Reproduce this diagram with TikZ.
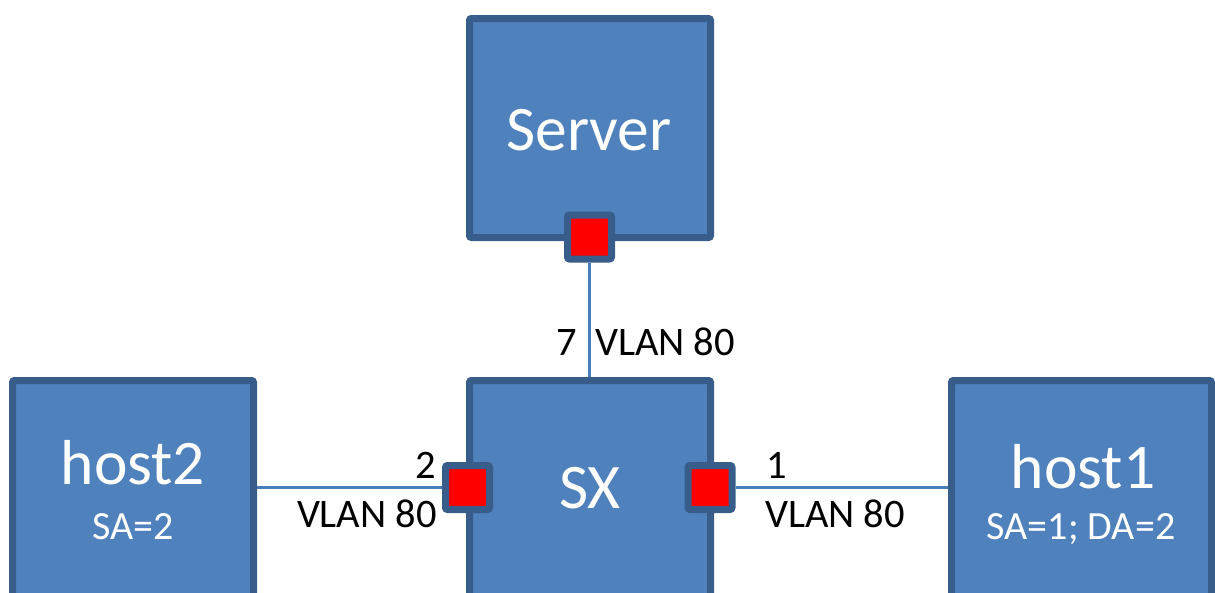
\documentclass[tikz,border=0pt]{standalone}
\usepackage{fontspec}
\setmainfont{Carlito}
\usetikzlibrary{backgrounds}
\definecolor{boxfill}{HTML}{4F81BD}
\definecolor{boxline}{HTML}{385D8A}
\definecolor{wire}{HTML}{4A7EBB}
\tikzset{
  devbox/.style={rectangle,draw=boxline,fill=boxfill,line width=7pt,rounded corners=2pt,
    minimum width=241pt,minimum height=219pt,inner sep=0pt},
  portbox/.style={rectangle,draw=boxline,fill=red,line width=7pt,rounded corners=2pt,
    minimum size=44pt,inner sep=0pt},
  bigtxt/.style={text=white,font=\fontsize{63.5}{63.5}\selectfont,inner sep=0pt},
  smalltxt/.style={text=white,font=\fontsize{40}{40}\selectfont,inner sep=0pt},
  lbl/.style={text=black,font=\fontsize{40.5}{40.5}\selectfont,inner sep=0pt},
  wireline/.style={draw=wire,line width=2.2pt}
}
\begin{document}
\begin{tikzpicture}[x=1pt,y=-1pt]
  \useasboundingbox (0,0) rectangle (1215,592);
  % Devices
  \node[devbox] (server) at (590,128) {};
  \node[devbox] (sx) at (590,490) {};
  \node[devbox] (host2) at (133,490) {};
  \node[devbox,minimum width=260pt] (host1) at (1081.5,490) {};
  % Names
  \node[bigtxt,anchor=base] (servername) at (589,150) {Server};
  \node[bigtxt,anchor=base] (sxname) at (590,508) {SX};
  \node[bigtxt,anchor=base] (host2name) at (133,484) {host2};
  \node[smalltxt,anchor=base] (host2addr) at (133,539) {SA=2};
  \node[bigtxt,anchor=base] (host1name) at (1083,488) {host1};
  \node[smalltxt,anchor=base] (host1addr) at (1081,539) {SA=1; DA=2};
  % Ports
  \node[portbox] (pserver) at (589.5,237) {};
  \node[portbox] (p2) at (467.5,487.5) {};
  \node[portbox] (p1) at (710,487.5) {};
  % Links (behind the boxes)
  \begin{scope}[on background layer]
    \draw[wireline] (pserver.south) -- (pserver.south |- sx.north);
    \draw[wireline] (host2.east |- p2.west) -- (p2.west);
    \draw[wireline] (p1.east) -- (p1.east -| host1.west);
  \end{scope}
  % Port labels
  \node[lbl,anchor=base east] (n7) at (577,355) {7};
  \node[lbl,anchor=base west] (v7) at (595,355) {VLAN 80};
  \node[lbl,anchor=base east] (n2) at (436,478) {2};
  \node[lbl,anchor=base east] (v2) at (437,527) {VLAN 80};
  \node[lbl,anchor=base west] (n1) at (766,478) {1};
  \node[lbl,anchor=base west] (v1) at (765,527) {VLAN 80};
\end{tikzpicture}
\end{document}
